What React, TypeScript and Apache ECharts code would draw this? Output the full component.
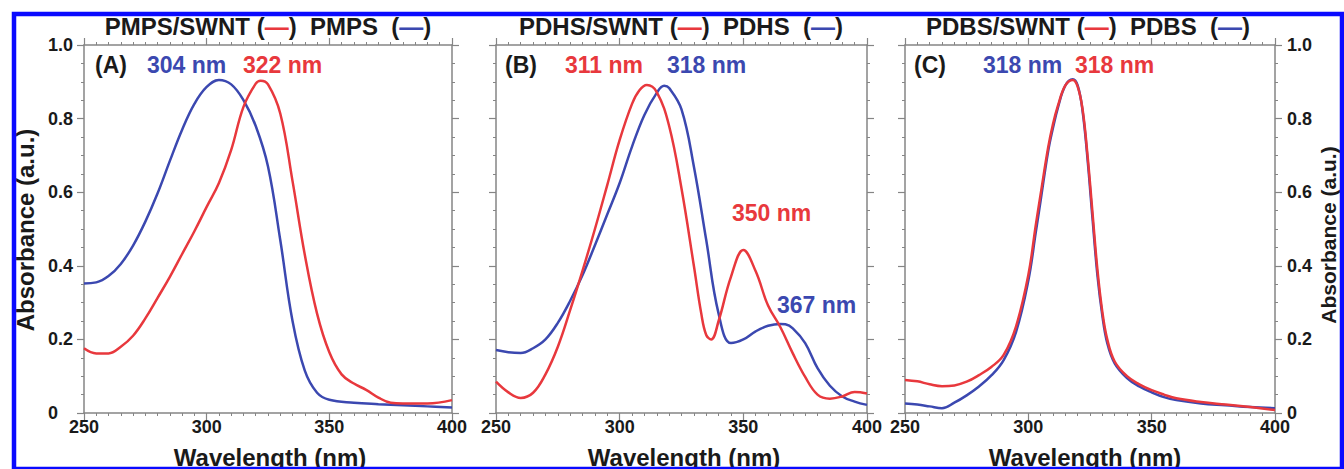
import React, { useEffect, useRef } from "react";
import * as echarts from "echarts";

// ---------- data ----------
const xTickLabels = ["250", "300", "350", "400"];
const yTickLabels = ["0", "0.2", "0.4", "0.6", "0.8", "1.0"];

// Panel A
const wlA_PMPS = [250, 255, 260, 265, 270, 275, 280, 285, 290, 295, 300, 305, 310, 315, 320, 325, 330, 335, 340, 345, 350, 360, 370, 380, 390, 400];
const absA_PMPS = [0.352, 0.355, 0.372, 0.405, 0.455, 0.52, 0.597, 0.685, 0.77, 0.84, 0.886, 0.905, 0.893, 0.85, 0.78, 0.67, 0.47, 0.25, 0.115, 0.055, 0.036, 0.028, 0.024, 0.021, 0.018, 0.015];
const wlA_PMPS_SWNT = [250, 255, 260, 265, 270, 275, 280, 285, 290, 295, 300, 305, 310, 315, 320, 322, 325, 330, 335, 340, 345, 350, 355, 360, 365, 370, 375, 380, 390, 400];
const absA_PMPS_SWNT = [0.176, 0.162, 0.162, 0.18, 0.21, 0.257, 0.313, 0.37, 0.432, 0.494, 0.56, 0.625, 0.715, 0.832, 0.895, 0.903, 0.893, 0.814, 0.63, 0.43, 0.27, 0.165, 0.105, 0.08, 0.063, 0.042, 0.028, 0.026, 0.026, 0.035];

// Panel B
const wlB_PDHS = [250, 255, 260, 265, 270, 275, 280, 285, 290, 295, 300, 305, 310, 315, 318, 320, 325, 330, 335, 340, 345, 350, 355, 360, 365, 367, 370, 375, 380, 385, 390, 395, 400];
const absB_PDHS = [0.171, 0.165, 0.163, 0.176, 0.2, 0.245, 0.305, 0.375, 0.456, 0.54, 0.625, 0.724, 0.81, 0.87, 0.889, 0.883, 0.825, 0.67, 0.47, 0.27, 0.19, 0.2, 0.222, 0.237, 0.242, 0.241, 0.23, 0.19, 0.122, 0.074, 0.045, 0.031, 0.022];
const wlB_PDHS_SWNT = [250, 255, 260, 265, 270, 275, 280, 285, 290, 295, 300, 305, 308, 311, 315, 320, 325, 330, 333, 335, 337, 340, 345, 350, 355, 360, 365, 370, 375, 380, 385, 390, 395, 400];
const absB_PDHS_SWNT = [0.085, 0.056, 0.041, 0.055, 0.105, 0.18, 0.28, 0.387, 0.5, 0.62, 0.742, 0.84, 0.877, 0.891, 0.872, 0.78, 0.61, 0.4, 0.27, 0.212, 0.2, 0.25, 0.37, 0.443, 0.385, 0.292, 0.233, 0.162, 0.098, 0.05, 0.039, 0.045, 0.057, 0.053];

// Panel C
const wlC_PDBS = [250, 255, 260, 265, 270, 275, 280, 285, 290, 295, 300, 303, 305, 308, 310, 312, 315, 318, 320, 322, 324, 326, 328, 330, 332, 335, 340, 345, 350, 355, 360, 370, 380, 390, 400];
const absC_PDBS = [0.026, 0.023, 0.018, 0.013, 0.028, 0.048, 0.072, 0.102, 0.144, 0.22, 0.36, 0.49, 0.578, 0.71, 0.775, 0.83, 0.89, 0.907, 0.89, 0.82, 0.69, 0.53, 0.375, 0.265, 0.19, 0.135, 0.095, 0.072, 0.056, 0.043, 0.035, 0.026, 0.021, 0.016, 0.013];
const wlC_PDBS_SWNT = [250, 255, 260, 265, 270, 275, 280, 285, 290, 295, 300, 303, 305, 308, 310, 312, 315, 318, 320, 322, 324, 326, 328, 330, 332, 335, 340, 345, 350, 355, 360, 370, 380, 390, 400];
const absC_PDBS_SWNT = [0.09, 0.086, 0.078, 0.073, 0.075, 0.085, 0.103, 0.125, 0.158, 0.235, 0.375, 0.51, 0.595, 0.72, 0.785, 0.835, 0.89, 0.905, 0.887, 0.825, 0.7, 0.545, 0.39, 0.275, 0.2, 0.14, 0.1, 0.078, 0.062, 0.05, 0.04, 0.03, 0.023, 0.016, 0.008];

const titlesSwnt = ["PMPS/SWNT", "PDHS/SWNT", "PDBS/SWNT"];
const titlesPure = ["PMPS", "PDHS", "PDBS"];
const panelTags = ["(A)", "(B)", "(C)"];

// ---------- style ----------
const RED = "#e8383d";
const BLUE = "#3b48b0";
const INK = "#1a1a1a";
const AXIS = "#858585";
const FONT = '"Liberation Sans", Arial, Helvetica, sans-serif';

const GRIDS = [
  { left: 84, width: 368 },
  { left: 496, width: 371 },
  { left: 905, width: 370 },
];
const GRID_TOP = 45;
const GRID_H = 368;

const zip = (xs: number[], ys: number[]) => xs.map((x, i) => [x, ys[i]]);

function txt(x: number, y: number, text: string, color: string, size: number, align = "left", rotation = 0) {
  return {
    type: "text",
    x,
    y,
    z: 50,
    rotation,
    style: {
      text,
      fill: color,
      font: `bold ${size}px ${FONT}`,
      align,
      textAlign: align,
      verticalAlign: "middle",
      textVerticalAlign: "middle",
    },
  };
}

function titleText(x: number, a: string, b: string) {
  const base = { fontSize: 24, fontWeight: "bold", fontFamily: FONT };
  return {
    type: "text",
    x,
    y: 26,
    z: 50,
    style: {
      text: `{k|${a} (}{r|—}{k|)  ${b}  (}{b|—}{k|)}`,
      align: "center",
      textAlign: "center",
      verticalAlign: "middle",
      textVerticalAlign: "middle",
      font: `bold 24px ${FONT}`,
      rich: {
        k: { ...base, fill: INK },
        r: { ...base, fill: RED },
        b: { ...base, fill: BLUE },
      },
    },
  };
}

export default function App() {
  const ref = useRef<HTMLDivElement>(null);

  useEffect(() => {
    document.body.style.margin = "0";
    if (!ref.current) return;
    const chart = echarts.init(ref.current, undefined, { renderer: "svg" });

    const xAxes: any[] = [];
    const yAxes: any[] = [];
    GRIDS.forEach((_, gi) => {
      ["bottom", "top"].forEach((pos) => {
        xAxes.push({
          gridIndex: gi,
          type: "value",
          position: pos,
          min: 250,
          max: 400,
          interval: 50,
          axisLine: { show: true, onZero: false, lineStyle: { color: AXIS, width: 1.5 } },
          axisTick: { show: true, length: 7, lineStyle: { color: AXIS, width: 1.2 } },
          minorTick: { show: true, splitNumber: 10, length: 3, lineStyle: { color: AXIS, width: 1 } },
          splitLine: { show: false },
          axisLabel: {
            show: pos === "bottom",
            margin: 5,
            color: INK,
            fontFamily: FONT,
            fontWeight: "bold",
            fontSize: 18,
            formatter: (v: number) => xTickLabels[Math.round((v - 250) / 50)] ?? "",
          },
        });
      });
      ["left", "right"].forEach((pos) => {
        const showLbl = (gi === 0 && pos === "left") || (gi === 2 && pos === "right");
        yAxes.push({
          gridIndex: gi,
          type: "value",
          position: pos,
          min: 0,
          max: 1,
          interval: 0.2,
          axisLine: { show: true, onZero: false, lineStyle: { color: AXIS, width: 1.5 } },
          axisTick: { show: true, length: 7, lineStyle: { color: AXIS, width: 1.2 } },
          minorTick: { show: true, splitNumber: 4, length: 3, lineStyle: { color: AXIS, width: 1 } },
          splitLine: { show: false },
          axisLabel: {
            show: showLbl,
            margin: pos === "left" ? 36 : 12,
            align: "left",
            color: INK,
            fontFamily: FONT,
            fontWeight: "bold",
            fontSize: 18,
            formatter: (v: number) => yTickLabels[Math.round(v / 0.2)] ?? "",
          },
        });
      });
    });

    const line = (name: string, data: number[][], color: string, gi: number) => ({
      name,
      type: "line",
      xAxisIndex: gi * 2,
      yAxisIndex: gi * 2,
      data,
      smooth: 0.4,
      showSymbol: false,
      symbol: "none",
      lineStyle: { color, width: 2.5 },
      itemStyle: { color },
      z: 3,
    });

    const series = [
      line("PMPS", zip(wlA_PMPS, absA_PMPS), BLUE, 0),
      line("PMPS/SWNT", zip(wlA_PMPS_SWNT, absA_PMPS_SWNT), RED, 0),
      line("PDHS", zip(wlB_PDHS, absB_PDHS), BLUE, 1),
      line("PDHS/SWNT", zip(wlB_PDHS_SWNT, absB_PDHS_SWNT), RED, 1),
      line("PDBS", zip(wlC_PDBS, absC_PDBS), BLUE, 2),
      line("PDBS/SWNT", zip(wlC_PDBS_SWNT, absC_PDBS_SWNT), RED, 2),
    ];

    const titleX = [268, 681, 1088];
    const xNameX = [270, 684, 1085];

    const graphics: any[] = [];
    GRIDS.forEach((_, gi) => {
      graphics.push(titleText(titleX[gi], titlesSwnt[gi], titlesPure[gi]));
      graphics.push(txt(xNameX[gi], 457, "Wavelength (nm)", INK, 24, "center"));
    });
    graphics.push(txt(25, 230, "Absorbance (a.u.)", INK, 24, "center", Math.PI / 2));
    graphics.push(txt(1328, 235, "Absorbance (a.u.)", INK, 21, "center", Math.PI / 2));

    // panel annotations
    graphics.push(txt(95, 65, panelTags[0], INK, 23));
    graphics.push(txt(147, 65, "304 nm", BLUE, 23));
    graphics.push(txt(243, 65, "322 nm", RED, 23));
    graphics.push(txt(505, 65, panelTags[1], INK, 23));
    graphics.push(txt(565, 65, "311 nm", RED, 23));
    graphics.push(txt(667, 65, "318 nm", BLUE, 23));
    graphics.push(txt(732, 213, "350 nm", RED, 23));
    graphics.push(txt(777, 305, "367 nm", BLUE, 23));
    graphics.push(txt(914, 65, panelTags[2], INK, 23));
    graphics.push(txt(983, 65, "318 nm", BLUE, 23));
    graphics.push(txt(1075, 65, "318 nm", RED, 23));

    // blue frame
    graphics.push({
      type: "rect",
      z: 100,
      shape: { x: 14, y: 14, width: 1328, height: 455 },
      style: { fill: "none", stroke: "#0a0aff", lineWidth: 4.5 },
    });

    chart.setOption({
      animation: false,
      backgroundColor: "#ffffff",
      grid: GRIDS.map((g) => ({ left: g.left, width: g.width, top: GRID_TOP, height: GRID_H, containLabel: false })),
      xAxis: xAxes,
      yAxis: yAxes,
      series,
      graphic: graphics,
    });

    return () => chart.dispose();
  }, []);

  return <div ref={ref} style={{ position: "fixed", left: 0, top: 0, width: 1344, height: 469 }} />;
}
